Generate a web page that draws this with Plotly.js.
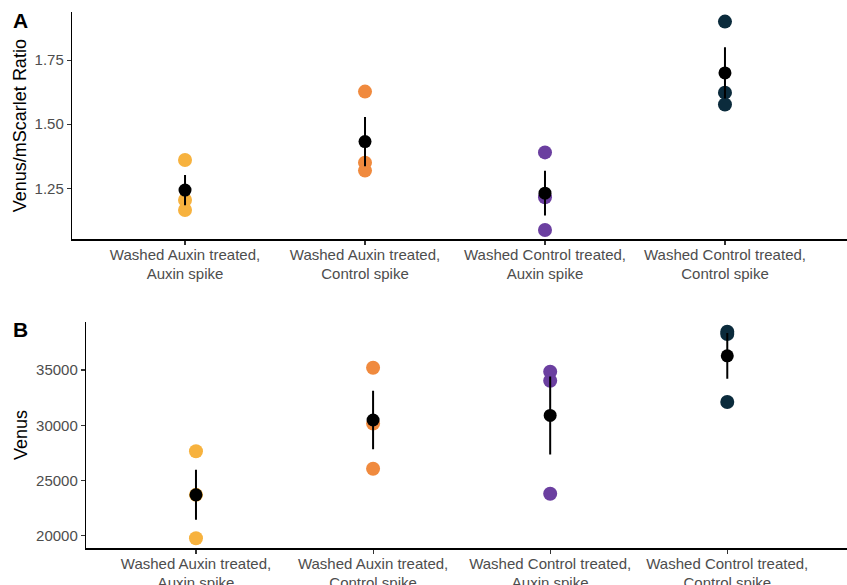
<!DOCTYPE html>
<html><head><meta charset="utf-8">
<script src="https://cdn.plot.ly/plotly-3.0.1.min.js"></script>
<style>html,body{margin:0;padding:0;background:#fff}#chart{width:847px;height:585px}</style>
</head><body><div id="chart"></div>
<script>
const categories = [1, 2, 3, 4];
const categoryLabels = [
  "Washed Auxin treated,<br>Auxin spike",
  "Washed Auxin treated,<br>Control spike",
  "Washed Control treated,<br>Auxin spike",
  "Washed Control treated,<br>Control spike"
];
const groupColors = ["#F7B23E", "#F08A3E", "#6B3FA0", "#0B2B3C"];

// Panel A: Venus/mScarlet ratio
const ratioPoints = [
  [1.360, 1.204, 1.165],
  [1.627, 1.350, 1.319],
  [1.390, 1.215, 1.087],
  [1.900, 1.623, 1.577]
];
const ratioMeans = [1.243, 1.432, 1.231, 1.700];
const ratioSE = [0.059, 0.096, 0.087, 0.100];
const ratioTicks = [1.25, 1.50, 1.75];
const ratioTickText = ["1.25", "1.50", "1.75"];

// Panel B: Venus
const venusPoints = [
  [27645, 23700, 19764],
  [35208, 30151, 26060],
  [34846, 34031, 23795],
  [38470, 38262, 32111]
];
const venusMeans = [23704, 30473, 30891, 36281];
const venusSE = [2270, 2640, 3530, 2070];
const venusTicks = [20000, 25000, 30000, 35000];
const venusTickText = ["20000", "25000", "30000", "35000"];

const W = 847, H = 585;
const traces = [];
function addPanel(points, means, se, xa, ya) {
  categories.forEach((c, i) => {
    traces.push({
      type: "scatter", mode: "markers", xaxis: xa, yaxis: ya,
      x: points[i].map(() => c), y: points[i],
      marker: {color: groupColors[i], size: 14, line: {width: 0}},
      showlegend: false, hoverinfo: "y"
    });
  });
  traces.push({
    type: "scatter", mode: "markers", xaxis: xa, yaxis: ya,
    x: categories, y: means,
    marker: {color: "#000000", size: 13, line: {width: 0}},
    error_y: {type: "data", array: se, visible: true, color: "#000000", thickness: 2, width: 0},
    showlegend: false, hoverinfo: "y"
  });
}
addPanel(ratioPoints, ratioMeans, ratioSE, "x", "y");
addPanel(venusPoints, venusMeans, venusSE, "x2", "y2");

const tickFont = {family: "Liberation Sans, Arial, sans-serif", size: 15, color: "#4D4D4D"};
const titleFont = {family: "Liberation Sans, Arial, sans-serif", size: 18, color: "#000000"};
function xAxis(left, anchor, range) {
  return {
    domain: [left / W, 1], anchor: anchor, range: range,
    tickmode: "array", tickvals: categories, ticktext: categoryLabels,
    showline: true, linecolor: "#000000", linewidth: 1.2,
    ticks: "outside", ticklen: 4, tickcolor: "#333333", tickwidth: 1.1,
    ticklabelstandoff: -3,
    showgrid: false, zeroline: false, tickfont: tickFont, fixedrange: true
  };
}
function yAxis(top, bottom, anchor, range, tv, tt, title, standoff) {
  return {
    domain: [(H - bottom) / H, (H - top) / H], anchor: anchor, range: range,
    tickmode: "array", tickvals: tv, ticktext: tt,
    showline: true, linecolor: "#000000", linewidth: 1.2,
    ticks: "outside", ticklen: 4, tickcolor: "#333333", tickwidth: 1.1,
    showgrid: false, zeroline: false, tickfont: tickFont,
    title: {text: title, font: titleFont, standoff: standoff}, fixedrange: true
  };
}
const layout = {
  width: W, height: H,
  margin: {l: 0, r: 0, t: 0, b: 0},
  paper_bgcolor: "#ffffff", plot_bgcolor: "#ffffff",
  showlegend: false,
  xaxis: xAxis(72, "y", [0.372, 4.678]),
  yaxis: yAxis(12, 239.3, "x", [1.051, 1.9375], ratioTicks, ratioTickText, "Venus/mScarlet Ratio", 3),
  xaxis2: xAxis(86, "y2", [0.379, 4.676]),
  yaxis2: yAxis(321.7, 548.3, "x2", [18859, 39375], venusTicks, venusTickText, "Venus", 3),
  annotations: [
    {text: "<b>A</b>", x: 11 / W, y: 1 - 21 / H, xref: "paper", yref: "paper", xanchor: "left", yanchor: "middle", showarrow: false,
     font: {family: "Liberation Sans, Arial, sans-serif", size: 21, color: "#000000"}},
    {text: "<b>B</b>", x: 11 / W, y: 1 - 329 / H, xref: "paper", yref: "paper", xanchor: "left", yanchor: "middle", showarrow: false,
     font: {family: "Liberation Sans, Arial, sans-serif", size: 21, color: "#000000"}}
  ]
};
Plotly.newPlot("chart", traces, layout, {displayModeBar: false, staticPlot: true});
</script>
</body></html>
